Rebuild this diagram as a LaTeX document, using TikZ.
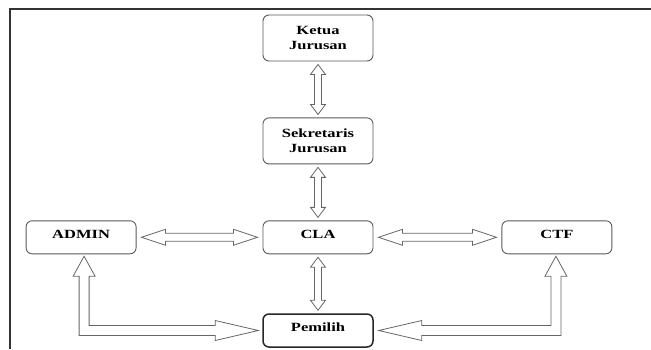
\documentclass[tikz,border=0pt]{standalone}
\usepackage{fontspec}
\setmainfont{Liberation Serif}
\newfontfamily\boxfont[FakeStretch=1.32]{Liberation Serif}
\usetikzlibrary{positioning, calc}
\tikzstyle{unit} = [rectangle, rounded corners=6pt, minimum width=110pt, text centered, draw=black!65, line width=0.9pt, font=\boxfont\bfseries\fontsize{12.5}{15}\selectfont]
\tikzstyle{unitone} = [unit, minimum height=33pt, text height=8.5pt, text depth=6pt]
\tikzstyle{unittwo} = [unit, minimum height=46pt, align=center]
\tikzstyle{hollow} = [draw=black!60, line width=0.8pt, fill=white, line join=miter]

% vertical two-way block arrow between two anchors
\newcommand{\vlink}[2]{%
  \draw [hollow] let \p1=(#1), \p2=(#2) in
    (\x1,\y1-3pt) -- (\x1+7.5pt,\y1-13pt) -- (\x1+3.5pt,\y1-13pt) -- (\x1+3.5pt,\y2+13pt)
    -- (\x1+7.5pt,\y2+13pt) -- (\x1,\y2+3pt) -- (\x1-7.5pt,\y2+13pt) -- (\x1-3.5pt,\y2+13pt)
    -- (\x1-3.5pt,\y1-13pt) -- (\x1-7.5pt,\y1-13pt) -- cycle;}
% horizontal two-way block arrow between two anchors
\newcommand{\hlink}[2]{%
  \draw [hollow] let \p1=(#1), \p2=(#2) in
    (\x1+5pt,\y1) -- (\x1+29pt,\y1+8pt) -- (\x1+29pt,\y1+4pt) -- (\x2-29pt,\y1+4pt)
    -- (\x2-29pt,\y1+8pt) -- (\x2-5pt,\y1) -- (\x2-29pt,\y1-8pt) -- (\x2-29pt,\y1-4pt)
    -- (\x1+29pt,\y1-4pt) -- (\x1+29pt,\y1-8pt) -- cycle;}

\begin{document}
\begin{tikzpicture}
\useasboundingbox (0,0) rectangle (651pt,-349pt);
\draw [black!80, line width=1.2pt] (651pt,-9pt) -- (10pt,-9pt) -- (10pt,-349pt);

\node (ketua) [unittwo] at (318pt,-38pt) {Ketua\\Jurusan};
\node (sekretaris) [unittwo, below=56pt of ketua] {Sekretaris\\Jurusan};
\node (cla) [unitone, below=56pt of sekretaris] {CLA};
\node (pemilih) [unitone, below=59pt of cla, draw=black!85, line width=1.5pt] {Pemilih};
\node (admin) [unitone, left=126pt of cla] {ADMIN};
\node (ctf) [unitone, right=128pt of cla] {CTF};

\vlink{ketua.south}{sekretaris.north}
\vlink{sekretaris.south}{cla.north}
\vlink{cla.south}{pemilih.north}
\hlink{admin.east}{cla.west}
\hlink{cla.east}{ctf.west}

% admin <-> pemilih
\draw [hollow] let \p1=(admin.south), \p2=(pemilih.west) in
  (\x1+3pt,\y1-2pt) -- (\x1+14pt,\y1-22pt) -- (\x1+8pt,\y1-22pt) -- (\x1+8pt,\y2+5pt)
  -- (\x2-47pt,\y2+5pt) -- (\x2-47pt,\y2+10pt) -- (\x2-4pt,\y2) -- (\x2-47pt,\y2-10pt)
  -- (\x2-47pt,\y2-5pt) -- (\x1-2pt,\y2-5pt) -- (\x1-2pt,\y1-22pt) -- (\x1-8pt,\y1-22pt) -- cycle;
% ctf <-> pemilih
\draw [hollow] let \p1=(ctf.south), \p2=(pemilih.east) in
  (\x1-1pt,\y1-2pt) -- (\x1-12pt,\y1-22pt) -- (\x1-6pt,\y1-22pt) -- (\x1-6pt,\y2+5pt)
  -- (\x2+48pt,\y2+5pt) -- (\x2+48pt,\y2+10pt) -- (\x2+5pt,\y2) -- (\x2+48pt,\y2-10pt)
  -- (\x2+48pt,\y2-5pt) -- (\x1+4pt,\y2-5pt) -- (\x1+4pt,\y1-22pt) -- (\x1+10pt,\y1-22pt) -- cycle;
\end{tikzpicture}
\end{document}
